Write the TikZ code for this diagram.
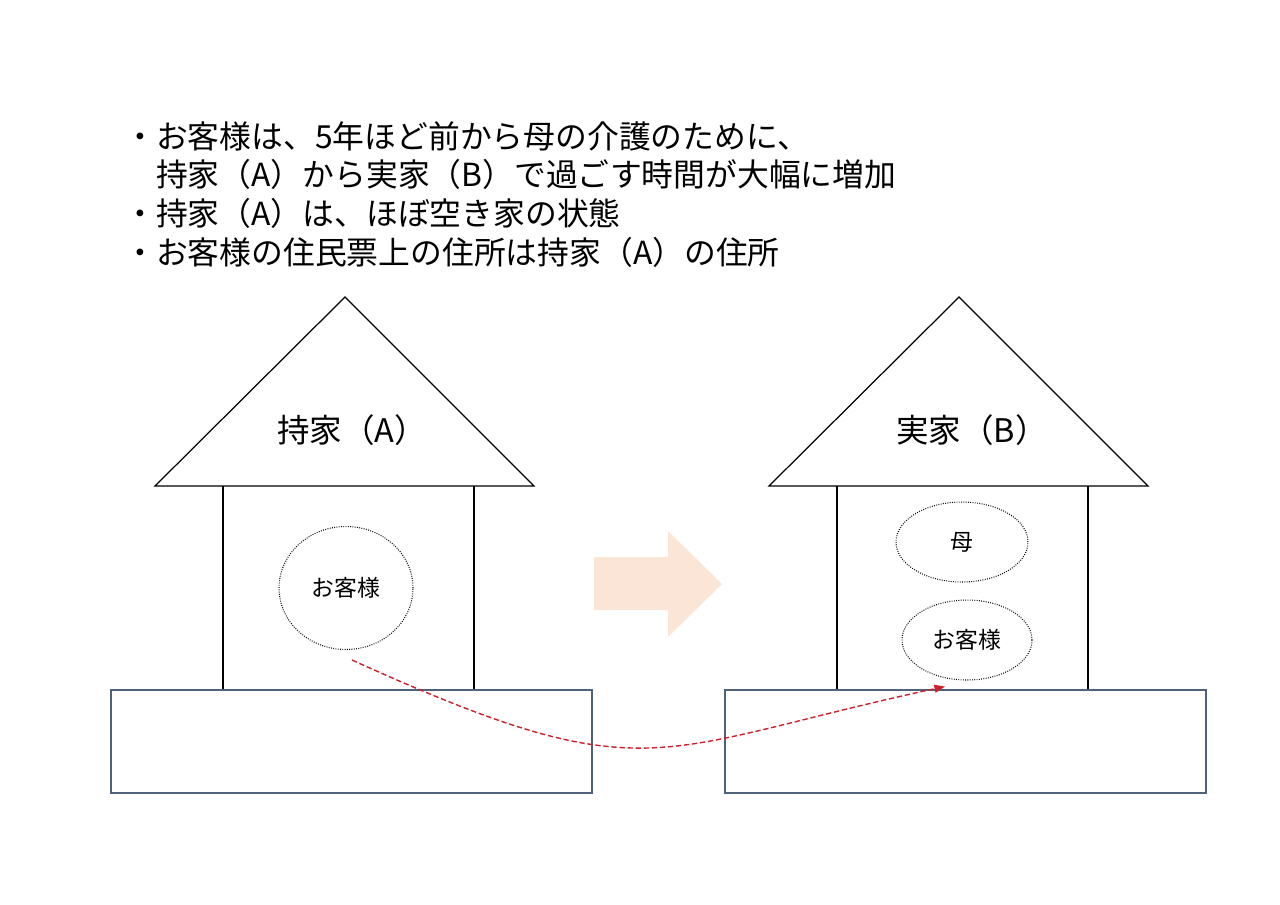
\documentclass[tikz,border=0pt]{standalone}
\usepackage{fontspec}
\setmainfont{Noto Sans CJK JP}
\usetikzlibrary{shapes.geometric,arrows.meta}
\definecolor{basecol}{RGB}{78,98,122}
\definecolor{peach}{RGB}{251,229,214}
\definecolor{redline}{RGB}{206,32,42}
\tikzset{
  person/.style={ellipse, draw, line width=0.6pt, dash pattern=on 0.5pt off 0.8pt,
    font=\fontsize{13}{15}\selectfont, inner sep=0pt},
  wall/.style={line width=0.7pt},
  groundbox/.style={draw=basecol, line width=0.8pt},
  moveline/.style={redline, line width=0.8pt, dash pattern=on 3pt off 1.6pt,
    -{Triangle[length=6pt,width=4.5pt]}},
}
\begin{document}
\begin{tikzpicture}[x=0.02cm, y=-0.02cm]
  \useasboundingbox (0,0) rectangle (1280,904);
  \node[anchor=north west, align=left, inner sep=0pt,
    font=\fontsize{18.1}{22}\selectfont] (notes) at (124,121)
    {・お客様は、5年ほど前から母の介護のために、\\
     \phantom{・}持家（A）から実家（B）で過ごす時間が大幅に増加\\
     ・持家（A）は、ほぼ空き家の状態\\
     ・お客様の住民票上の住所は持家（A）の住所};
  % two houses
  \foreach \x/\lx/\name/\lab in {0/352/A/持家（A）,614/972/B/実家（B）}{
    \draw[wall] (\x+155,486) -- (\x+345,297) -- (\x+534,486) -- cycle;
    \draw[wall] (\x+223,486) -- (\x+223,690) (\x+474,486) -- (\x+474,690);
    \draw[groundbox] (\x+111,690) rectangle (\x+592,793);
    \node[font=\fontsize{18.5}{22}\selectfont] (roof\name) at (\lx,430) {\lab};
  }
  \node[person, minimum width=2.68cm, minimum height=2.46cm] (custA) at (346,588) {お客様};
  \node[person, minimum width=2.64cm, minimum height=1.6cm] (mother) at (962,542) {母};
  \node[person, minimum width=2.6cm, minimum height=1.6cm] (custB) at (967,640) {お客様};
  % big arrow
  \fill[peach] (594,557) -- (668,557) -- (668,531) -- (722,584) -- (668,637)
    -- (668,610) -- (594,610) -- cycle;
  \draw[moveline] ([shift={(6,10)}]custA.south) .. controls (650,795) and (650,750)
    .. ([shift={(-22,6)}]custB.south);
\end{tikzpicture}
\end{document}
